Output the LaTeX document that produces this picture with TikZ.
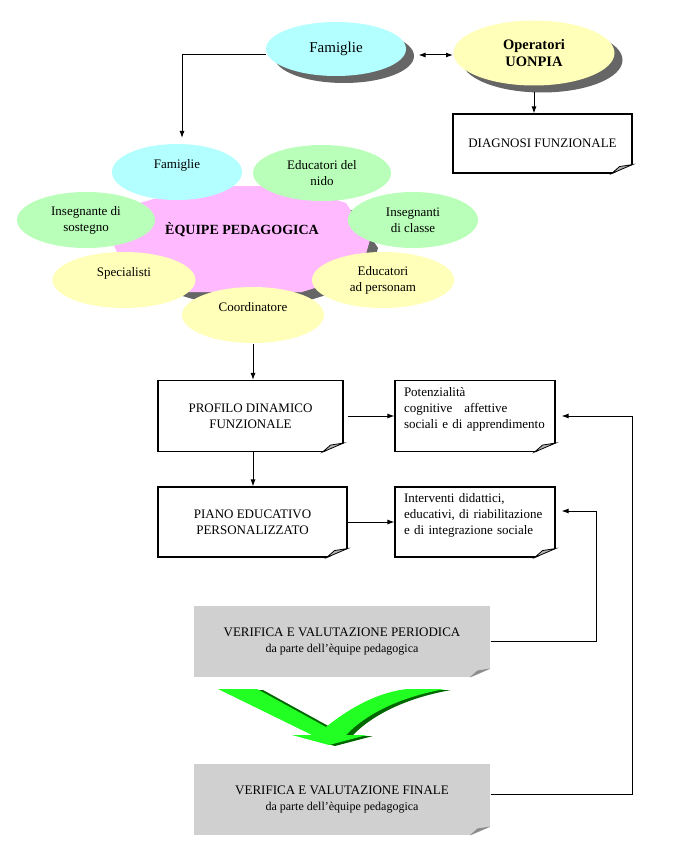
\documentclass[tikz,border=0pt]{standalone}
\usepackage{fontspec}
\setmainfont{Liberation Serif}
\usetikzlibrary{shapes.geometric,shadows,calc,arrows.meta}

\definecolor{famcyan}{HTML}{B3FFFF}
\definecolor{edugreen}{HTML}{B9FFB9}
\definecolor{spyellow}{HTML}{FFFFB9}
\definecolor{eqpink}{HTML}{FFB9FF}
\definecolor{notegray}{HTML}{D0D0D0}
\definecolor{arrowgreen}{HTML}{22FF22}
\definecolor{arrowshade}{HTML}{006600}

\tikzstyle{bubble}=[
        ellipse,
        inner sep = 0pt,
        align = center,
        minimum width = 140pt,
        minimum height = 56pt,
        font = \fontsize{13}{16}\selectfont
    ]
\tikzstyle{cyan bubble}=[bubble, fill = famcyan]
\tikzstyle{green bubble}=[bubble, fill = edugreen]
\tikzstyle{yellow bubble}=[bubble, fill = spyellow]
\tikzstyle{paper box}=[
        rectangle,
        draw,
        line width = 1.1pt,
        fill = white,
        inner sep = 0pt,
        align = center,
        font = \fontsize{13}{16}\selectfont
    ]
\tikzstyle{gray box}=[
        rectangle,
        fill = notegray,
        inner sep = 0pt,
        minimum width = 296pt,
        minimum height = 71pt,
        align = center,
        font = \fontsize{13}{16}\selectfont
    ]

% folded corner at the bottom right of a box
\newcommand{\dogear}[2]{%
    \fill[white] ($(#1.south east)+(1,1)$) -- ($(#1.south east)+(1,-9)$) -- ($(#1.south east)+(-22,1)$) -- cycle;
    \path[#2] ($(#1.south east)+(0,-9)$) -- ($(#1.south east)+(-21,0)$) -- ($(#1.south east)+(-13,-7)$) -- cycle;}

\begin{document}
\begin{tikzpicture}[x=1pt, y=-1pt, line width=1pt,
        >={Latex[length=7pt,width=5pt]},
        shade/.style = {drop shadow={shadow xshift=8pt, shadow yshift=-7pt, fill=black!60, opacity=1}}]
        \useasboundingbox (0,0) rectangle (682,845);

        % top row
        \node[cyan bubble, shade, minimum width=140pt, minimum height=54pt,
              font=\fontsize{15}{18}\selectfont] (famtop) at (336,49) {Famiglie};
        \node[yellow bubble, shade, minimum width=161pt, minimum height=65pt,
              font=\fontsize{14.5}{17}\selectfont\bfseries] (uonpia) at (534,53) {Operatori\\UONPIA};
        \node[paper box, minimum width=179pt, minimum height=59pt] (diagnosi) at (542.5,143.5) {DIAGNOSI FUNZIONALE};
        \dogear{diagnosi}{fill=black!30, draw, line width=0.8pt}

        % equipe
        \fill[black!60, shift={(8,8)}] (200,186) -- (292,186) -- (346,203) -- (370,240) -- (360,274) -- (302,292) -- (188,292) -- (128,274) -- (113,244) -- (136,204) -- cycle;
        \fill[eqpink] (200,186) -- (292,186) -- (346,203) -- (370,240) -- (360,274) -- (302,292) -- (188,292) -- (128,274) -- (113,244) -- (136,204) -- cycle;
        \node[font=\fontsize{14}{17}\selectfont\bfseries] (equipe) at (242,230) {ÈQUIPE PEDAGOGICA};

        \node[cyan bubble, minimum width=130pt] (famin) at (177,172) {Famiglie\\~};
        \node[green bubble, minimum width=138pt] (nido) at (322,173) {Educatori del\\nido};
        \node[green bubble, minimum width=138pt] (sostegno) at (86,220) {Insegnante di\\sostegno};
        \node[green bubble, minimum width=130pt] (classe) at (413,220) {Insegnanti\\di classe};
        \node[yellow bubble, minimum width=143pt] (special) at (124,280) {Specialisti\\~};
        \node[yellow bubble, minimum width=142pt] (personam) at (383,280) {Educatori\\ad personam};
        \node[yellow bubble, minimum width=142pt] (coord) at (253,315) {Coordinatore\\~};

        % boxes
        \node[paper box, minimum width=185pt, minimum height=71pt] (profilo) at (250.5,416) {PROFILO DINAMICO\\FUNZIONALE};
        \node[paper box, minimum width=160pt, minimum height=71pt, text width=142pt, align=left] (potenz) at (475,416)
            {Potenzialità\\cognitive\hspace{12pt}affettive\\sociali e di apprendimento\\~};
        \node[paper box, minimum width=189pt, minimum height=70pt] (piano) at (252.5,522) {PIANO EDUCATIVO\\PERSONALIZZATO};
        \node[paper box, minimum width=160pt, minimum height=70pt, text width=142pt, align=left] (interv) at (475,522)
            {Interventi didattici,\\educativi, di riabilitazione\\e di integrazione sociale\\~};
        \dogear{profilo}{fill=black!30, draw, line width=0.8pt}
        \dogear{potenz}{fill=black!30, draw, line width=0.8pt}
        \dogear{piano}{fill=black!30, draw, line width=0.8pt}
        \dogear{interv}{fill=black!30, draw, line width=0.8pt}

        \node[gray box] (periodica) at (342,641.5) {VERIFICA E VALUTAZIONE PERIODICA\\\fontsize{12}{15}\selectfont da parte dell’èquipe pedagogica};
        \node[gray box] (finale) at (342,799.5) {VERIFICA E VALUTAZIONE FINALE\\\fontsize{12}{15}\selectfont da parte dell’èquipe pedagogica};
        \dogear{periodica}{fill=black!45}
        \dogear{finale}{fill=black!45}

        % green arrow
        \fill[arrowshade, shift={(6,1)}] (218,689) -- (257,689) -- (326,727) .. controls (352,706) and (380,692) .. (407,689) -- (445,689)
            .. controls (400,697) and (366,714) .. (346,735) -- (367,735) -- (329,745) -- (292,735) -- (312,735) -- cycle;
        \fill[arrowgreen] (218,689) -- (257,689) -- (326,727) .. controls (352,706) and (380,692) .. (407,689) -- (445,689)
            .. controls (400,697) and (366,714) .. (346,735) -- (367,735) -- (329,745) -- (292,735) -- (312,735) -- cycle;

        % connectors
        \coordinate (famdrop) at (182,138);
        \coordinate (loopa) at (596,511);
        \coordinate (loopb) at (632,416);
        \draw[->] ([yshift=-6pt]famtop.west) -| (famdrop);
        \draw[<->] ([xshift=12pt,yshift=-6pt]famtop.east) -- ([yshift=-6pt]famtop.east -| uonpia.west);
        \draw[->] ([yshift=-6pt]uonpia.south) -- (uonpia.south |- diagnosi.north);
        \draw[->] (coord.south) -- (coord.south |- profilo.north);
        \draw[->] (profilo.south -| coord.south) -- (piano.north -| coord.south);
        \draw[->] ([xshift=4pt]profilo.east) -- (potenz.west);
        \draw[->] (piano.east) -- (interv.west);
        \draw[->, shorten >=6pt] (periodica.east) -| (loopa) -- (loopa -| interv.east);
        \draw[->, shorten >=6pt] ([yshift=5pt]finale.east) -| (loopb) -- (potenz.east);
    \end{tikzpicture}
\end{document}
